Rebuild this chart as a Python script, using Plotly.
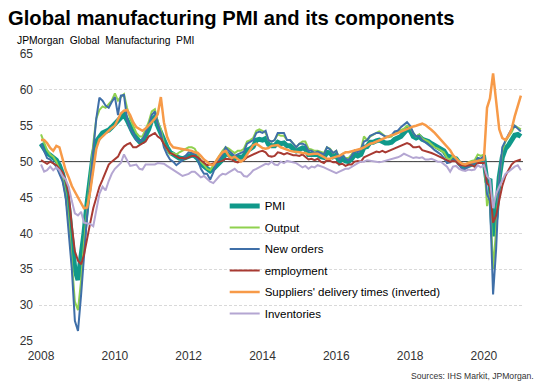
import pandas as pd
import plotly.graph_objects as go

dates = pd.date_range("2008-01-01", periods=157, freq="MS")

pmi = [
    52.5, 51.8, 51.2, 50.9, 50.5, 50.2, 49.5, 48.3, 46.5, 43.5, 39.0, 35.0,
    33.5, 36.5, 40.0, 44.2, 48.0, 51.0, 52.8, 53.5, 54.0, 54.2, 54.4, 54.8,
    55.3, 55.7, 56.3, 56.6, 55.8, 54.8, 54.0, 53.3, 52.8, 52.8, 53.5, 54.5,
    55.8, 56.2, 55.0, 54.0, 52.7, 52.0, 51.3, 51.0, 50.6, 50.5, 50.4, 50.6,
    50.8, 50.9, 50.8, 50.4, 49.7, 49.3, 48.9, 48.7, 49.0, 49.4, 49.8, 50.3,
    51.2, 50.9, 50.8, 50.4, 50.6, 50.6, 50.8, 51.6, 51.8, 52.1, 53.0, 53.1,
    53.0, 53.2, 52.4, 52.2, 52.2, 52.7, 52.5, 52.6, 52.2, 52.2, 51.8, 51.5,
    51.7, 51.9, 51.8, 51.0, 51.0, 51.0, 51.0, 50.7, 50.6, 51.3, 51.2, 50.7,
    50.9, 50.0, 50.5, 50.1, 50.0, 50.4, 51.0, 50.8, 51.0, 52.0, 52.1, 52.7,
    52.7, 52.9, 53.0, 52.8, 52.6, 52.6, 52.7, 53.1, 53.3, 53.5, 54.0, 54.5,
    54.4, 53.5, 53.3, 53.5, 53.1, 53.0, 52.8, 52.5, 52.2, 52.0, 51.8, 51.5,
    50.8, 50.6, 50.5, 50.4, 49.8, 49.4, 49.3, 49.5, 49.7, 49.8, 50.3, 50.1,
    50.4, 47.1, 47.6, 39.6, 42.4, 47.8, 50.6, 51.8, 52.3, 53.0, 53.7, 53.8,
    53.5,
]

output = [
    53.8, 52.5, 51.6, 51.0, 50.7, 50.0, 49.0, 47.8, 45.5, 41.5, 36.0, 30.5,
    29.3, 33.5, 38.5, 43.5, 48.5, 52.5, 56.0, 57.2, 57.7, 57.5, 58.0, 58.5,
    59.5, 58.5, 59.0, 59.4, 57.5, 56.0, 55.0, 54.0, 53.5, 53.5, 54.5, 55.5,
    57.0, 57.3, 55.5, 54.5, 52.5, 51.7, 51.0, 51.2, 51.0, 51.3, 51.5, 51.8,
    52.0, 52.0, 51.8, 51.0, 50.0, 49.5, 49.0, 48.8, 49.5, 50.2, 50.8, 51.5,
    52.0, 51.8, 51.5, 51.2, 51.5, 51.5, 51.8, 52.8, 53.0, 53.3, 54.3, 54.5,
    54.3, 54.0, 53.0, 52.8, 53.0, 53.8, 53.6, 53.6, 53.0, 53.0, 52.5, 52.0,
    52.5, 52.8, 52.8, 51.8, 51.7, 51.5, 51.5, 51.3, 51.2, 52.0, 51.8, 51.2,
    51.5, 50.5, 51.0, 50.5, 50.5, 51.0, 51.6, 51.4, 51.7, 53.5, 53.0, 53.5,
    53.8, 54.0, 54.2, 53.8, 53.5, 53.4, 53.5, 54.0, 54.2, 54.3, 54.6, 55.0,
    54.8, 54.0, 53.5, 53.8, 53.2, 53.0, 52.8, 52.4, 52.0, 51.8, 51.6, 51.3,
    50.5, 50.3, 50.8, 50.5, 50.0, 49.5, 49.5, 49.9, 50.1, 50.2, 51.0, 50.8,
    51.0, 43.8, 45.5, 35.0, 40.5, 47.5, 51.5, 52.8, 53.5, 54.1, 55.0, 54.8,
    54.5,
]

new_orders = [
    52.5, 51.5, 50.5, 50.3, 49.8, 49.3, 48.3, 47.3, 45.0, 40.0, 35.0, 27.8,
    26.4, 31.5, 37.0, 42.5, 47.0, 51.5, 56.0, 58.9, 58.5, 57.8, 57.5, 58.3,
    59.0, 56.5, 59.2, 59.3, 56.0, 54.5, 54.0, 53.0, 52.8, 53.0, 54.0, 55.0,
    56.5, 57.0, 55.3, 54.0, 52.0, 51.0, 50.3, 50.0, 49.5, 49.8, 50.2, 50.8,
    51.3, 51.2, 51.0, 50.3, 49.0, 48.3, 48.3, 47.5, 48.5, 49.8, 50.3, 51.0,
    52.0, 51.5, 51.2, 50.8, 51.0, 51.2, 51.4, 52.5, 52.8, 53.0, 54.0, 54.2,
    54.0, 54.3, 53.0, 52.8, 53.0, 54.0, 54.0, 54.0, 53.0, 53.0, 52.5, 52.0,
    52.5, 52.5, 52.3, 51.5, 51.5, 51.2, 51.4, 51.2, 51.0, 52.0, 51.7, 51.2,
    51.5, 50.2, 51.0, 50.4, 50.2, 50.8, 51.5, 51.3, 51.7, 52.8, 53.0, 53.6,
    53.8, 54.0, 54.0, 53.8, 53.5, 53.5, 53.7, 54.2, 54.3, 54.8, 55.2, 55.5,
    55.0, 54.0, 53.5, 53.6, 53.0, 52.7, 52.3, 52.0, 51.6, 51.3, 51.0, 50.5,
    49.8, 49.9, 50.3, 50.1, 49.6, 48.9, 49.0, 49.3, 49.6, 49.8, 50.5, 50.4,
    50.8, 45.5, 44.5, 31.5, 37.8, 47.5, 52.0, 53.0, 53.8, 54.5, 55.0, 54.6,
    54.2,
]

employment = [
    50.2, 50.0, 49.7, 50.0, 49.8, 49.5, 49.0, 48.5, 47.4, 45.5, 41.0, 37.5,
    36.2, 35.7, 37.0, 39.5, 41.4, 43.5, 45.0, 46.5, 47.5, 48.5, 49.6, 50.0,
    50.3, 50.7, 51.5, 52.1, 52.4, 52.6, 52.0, 52.0, 52.3, 52.5, 52.8, 53.5,
    53.8, 54.0, 53.5, 53.2, 52.5, 51.8, 51.2, 51.0, 50.7, 50.5, 50.5, 50.4,
    50.6, 50.8, 50.8, 50.6, 50.2, 49.8, 49.5, 49.6, 49.8, 49.9, 50.0, 50.1,
    50.4, 50.3, 50.3, 50.0, 49.9, 50.1, 50.2, 50.6, 50.8, 51.0, 51.3, 51.4,
    51.5, 51.3, 50.8, 50.7, 50.8, 51.3, 51.2, 51.0, 51.2, 51.0, 50.9, 50.9,
    50.8, 51.0, 50.6, 50.3, 50.4, 50.2, 50.4, 50.0, 49.8, 50.2, 50.1, 49.9,
    49.9, 49.6, 49.7, 49.4, 49.6, 49.6, 50.0, 50.1, 50.0, 50.6, 50.8, 51.0,
    51.2, 51.4, 51.3, 51.5, 51.3, 51.5, 51.7, 51.9, 52.0, 52.2, 52.4, 52.6,
    52.4, 52.0, 52.0, 52.1, 51.6, 51.5, 51.3, 51.2, 51.0, 50.8, 50.6, 50.4,
    50.2, 50.0, 50.1, 50.0, 49.6, 49.5, 49.4, 49.5, 49.5, 49.3, 49.8, 49.8,
    49.8, 47.0, 46.5, 41.5, 42.5, 44.6, 46.6, 48.0, 48.8, 49.6, 50.0, 50.2,
    50.3,
]

suppliers_inv = [
    53.0, 53.0, 52.6, 51.9, 51.5, 52.2, 52.0, 50.5, 48.8, 47.8, 46.6, 45.8,
    45.0, 44.3, 43.5, 43.6, 45.8, 48.8, 51.8, 53.1, 53.5, 54.0, 54.3, 54.7,
    55.0, 56.0, 56.7, 57.1, 57.2, 56.5, 55.5, 54.8, 54.5, 54.3, 54.6, 55.0,
    55.5, 56.0, 56.6, 59.0, 55.5, 53.5, 52.5, 52.0, 51.9, 51.8, 51.8, 51.7,
    51.6, 51.5, 51.3, 51.2, 50.8, 50.3, 50.0, 49.6, 49.5, 50.2, 50.8, 51.3,
    51.5, 50.8, 50.5, 50.7, 50.4, 50.0, 50.3, 51.0, 51.8, 52.3, 52.5, 52.2,
    51.9, 51.8, 51.9, 52.2, 52.3, 52.3, 52.0, 51.8, 51.6, 51.5, 51.4, 51.3,
    51.3, 51.2, 51.2, 51.0, 51.1, 51.1, 51.1, 50.9, 50.6, 50.4, 50.4, 50.6,
    50.7, 50.8, 51.0, 51.3, 51.3, 51.4, 51.6, 51.7, 51.8, 52.0, 52.3, 52.5,
    52.6, 52.8, 53.0, 53.2, 53.4, 53.6, 53.7, 53.8, 54.0, 54.1, 54.3, 54.5,
    54.8, 54.9, 55.0, 55.2, 55.3, 55.1, 54.8, 54.4, 54.0, 53.5, 53.0, 52.6,
    52.1, 51.6, 50.9, 50.4, 50.0, 49.7, 49.6, 49.8, 49.9, 50.0, 50.1, 50.2,
    50.3, 57.5, 58.8, 62.3, 58.7, 54.5, 53.3, 53.0, 53.6, 54.5, 56.3, 57.6,
    59.2,
]

inventories = [
    49.6, 48.6, 48.8, 49.3, 48.8, 49.2, 48.8, 48.0, 47.5, 46.5, 44.5, 42.8,
    42.5, 43.0, 41.5, 41.4, 41.3, 41.0, 43.0, 45.5, 46.5, 46.0, 47.3, 48.3,
    49.0, 49.5, 49.8, 51.0, 50.2, 49.4, 49.5, 49.6, 49.0, 48.9, 49.6, 49.6,
    49.5, 49.6, 49.8, 49.8, 49.7, 49.4, 49.1, 48.8, 48.5, 48.3, 48.0, 48.1,
    48.3, 48.6, 48.6, 48.2, 47.8, 48.0, 47.6, 47.2, 47.0, 47.5, 48.0, 48.3,
    48.2, 48.5, 48.8, 49.0, 48.6, 48.5, 48.0, 47.9, 48.3, 48.8, 49.0, 49.2,
    49.5, 49.7, 49.6, 50.0, 49.6, 49.5, 50.0, 49.8, 50.1, 50.0, 49.8, 49.8,
    49.5, 49.2, 49.4, 49.0, 49.3, 49.2, 49.5, 49.4, 49.2, 49.0, 48.8, 48.5,
    48.4, 48.6, 48.8, 49.0, 49.0, 49.3, 49.6, 49.8, 50.0, 50.0, 50.2, 50.1,
    50.0, 50.0, 49.9, 50.0, 50.1, 50.2, 50.3, 50.4, 50.6, 50.8, 51.1, 50.9,
    50.7, 50.5, 50.6, 50.5, 50.6, 50.3, 50.3, 50.4, 50.2, 50.0, 50.0, 49.6,
    49.3, 48.6, 49.3, 49.4, 49.0, 48.8, 48.7, 48.9, 48.8, 48.9, 49.5, 49.2,
    49.5, 48.0, 47.5, 43.5, 45.5, 46.5, 47.5, 48.3, 48.6, 49.0, 49.3, 49.5,
    48.8,
]

series_names = ["PMI", "Output", "New orders", "employment",
                "Suppliers' delivery times (inverted)", "Inventories"]
series_values = [pmi, output, new_orders, employment, suppliers_inv, inventories]
series_colors = ["#10998a", "#8fd14f", "#3f6fa8", "#a83a32", "#f79a48", "#b4a6d2"]
series_widths = [5, 2, 2, 2, 2.5, 2]

x_tick_vals = ["2008-01-01", "2010-01-01", "2012-01-01", "2014-01-01",
               "2016-01-01", "2018-01-01", "2020-01-01"]
x_tick_text = ["2008", "2010", "2012", "2014", "2016", "2018", "2020"]
y_tick_vals = [25, 30, 35, 40, 45, 50, 55, 60, 65]
x_range = ["2007-12-12", "2021-01-22"]
threshold = 50

FONT = "Liberation Sans, Arial, sans-serif"

# The page body has an 8px margin, so the figure is 541x383 and all
# positions below are measured from that offset.
W, H = 541, 383
L, R, T, B = 25, 26, 45.5, 50.3
PW, PH = W - L - R, H - T - B


def px(xv):
    return (xv - L) / PW


def py(yv):
    return (H - B - yv) / PH


fig = go.Figure()
# 50 "no change" reference line, drawn above the grid but beneath the series
fig.add_trace(go.Scatter(
    x=x_range, y=[threshold, threshold], mode="lines",
    line=dict(color="#3a3a3a", width=1), showlegend=False, hoverinfo="skip",
))
for name, vals, col, w in zip(series_names, series_values, series_colors, series_widths):
    fig.add_trace(go.Scatter(
        x=dates, y=vals, name=name, mode="lines",
        line=dict(color=col, width=w),
        legendgroup=name,
    ))

fig.update_layout(
    width=W, height=H,
    margin=dict(l=L, r=R, t=T, b=B),
    paper_bgcolor="white", plot_bgcolor="white",
    font=dict(family=FONT, color="#333333", size=12),
    title=dict(text="<b>Global manufacturing PMI and its components</b>",
               x=0, xanchor="left", xref="container",
               y=1 - 9.5 / H, yanchor="middle", yref="container",
               font=dict(family=FONT, size=20.2, color="#000000")),
    showlegend=True,
    legend=dict(x=px(213), y=py(183), xanchor="left", yanchor="top",
                bgcolor="rgba(0,0,0,0)", font=dict(family=FONT, size=11.5, color="#000000"),
                tracegroupgap=2.5, itemwidth=30),
    xaxis=dict(type="date", range=x_range,
               tickvals=x_tick_vals, ticktext=x_tick_text,
               showgrid=False, zeroline=False, showline=False, ticks="",
               ticklabelstandoff=6,
               tickfont=dict(size=12, color="#333333")),
    yaxis=dict(range=[25, 65], tickvals=y_tick_vals,
               showgrid=True, gridcolor="#d9d9d9", gridwidth=1, griddash="3px,2px",
               zeroline=False, showline=False, ticks="", ticklabelstandoff=5,
               tickfont=dict(size=12, color="#333333")),
    annotations=[
        dict(text="JPMorgan  Global  Manufacturing  PMI", xref="paper", yref="paper",
             x=px(1), y=py(32), xanchor="left", yanchor="middle",
             showarrow=False, font=dict(family=FONT, size=10.3, color="#000000")),
        dict(text="Sources: IHS Markit, JPMorgan.", xref="paper", yref="paper",
             x=px(528), y=py(368), xanchor="right", yanchor="middle",
             showarrow=False, font=dict(family=FONT, size=8.6, color="#333333")),
    ],
)

fig.write_html("out.html")
